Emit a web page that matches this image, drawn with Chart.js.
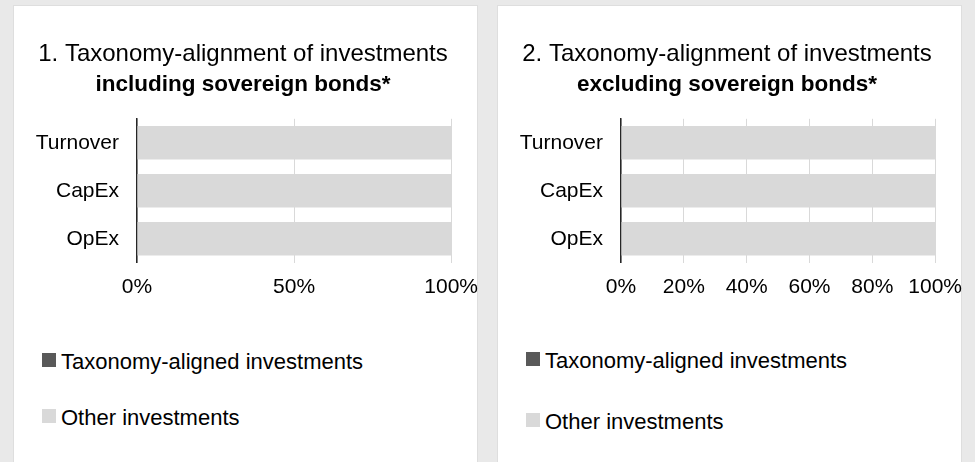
<!DOCTYPE html>
<html>
<head>
<meta charset="utf-8">
<script src="https://cdn.jsdelivr.net/npm/chart.js@4"></script>
<style>
  html, body { margin: 0; padding: 0; }
  body { width: 975px; height: 462px; background: #e9e9e9; position: relative; overflow: hidden;
         font-family: "Liberation Sans", Arial, sans-serif; }
  .panel { position: absolute; top: 6px; width: 463px; height: 460px; background: #fff;
           box-shadow: 0 0 0 1px #dedede; }
  .panel canvas { position: absolute; left: 0; top: 0; }
  .legend-item { position: absolute; left: 28px; height: 24px; }
  .legend-item .box { position: absolute; left: 0; width: 14px; height: 14px; }
  .legend-item .txt { position: absolute; left: 19px; font-size: 22px; line-height: 22px;
                      color: #000; white-space: nowrap; }
</style>
</head>
<body>
<div class="panel" id="p1" style="left:14px"><canvas id="chart1" width="476" height="315"></canvas></div>
<div class="panel" id="p2" style="left:498px"><canvas id="chart2" width="476" height="315"></canvas></div>
<script>
// data
const categories = ["Turnover", "CapEx", "OpEx"];
const seriesNames = ["Taxonomy-aligned investments", "Other investments"];
const seriesColors = ["#595959", "#d9d9d9"];

const alignedIncl = [0, 0, 0];
const otherIncl = [100, 100, 100];
const alignedExcl = [0, 0, 0];
const otherExcl = [100, 100, 100];

const ticksIncl = [0, 50, 100];
const ticksExcl = [0, 20, 40, 60, 80, 100];

const titleIncl = ["1. Taxonomy-alignment of investments", "including sovereign bonds*"];
const titleExcl = ["2. Taxonomy-alignment of investments", "excluding sovereign bonds*"];

const FONT = "'Liberation Sans', Arial, sans-serif";

function makeChart(canvasId, panelId, title, aligned, other, ticks, legendTops) {
  const step = ticks[1] - ticks[0];
  new Chart(document.getElementById(canvasId), {
    type: "bar",
    data: {
      labels: categories,
      datasets: [
        { label: seriesNames[0], data: aligned, backgroundColor: seriesColors[0], borderWidth: 0,
          categoryPercentage: 1, barPercentage: 0.7 },
        { label: seriesNames[1], data: other, backgroundColor: seriesColors[1], borderWidth: 0,
          categoryPercentage: 1, barPercentage: 0.7 }
      ]
    },
    options: {
      indexAxis: "y",
      responsive: false,
      animation: false,
      // canvas is a bit wider than the panel so the 100% label fits
      layout: { padding: { left: 20, right: 38, top: 0, bottom: 9 } },
      plugins: {
        legend: { display: false },
        tooltip: { enabled: false },
        title: {
          display: true,
          text: title[0],
          color: "#000",
          font: { family: FONT, size: 24, weight: "normal", lineHeight: 1.2 },
          padding: { top: 34, bottom: 0 }
        },
        subtitle: {
          display: true,
          text: title[1],
          color: "#000",
          font: { family: FONT, size: 22.5, weight: "bold", lineHeight: 1.2 },
          padding: { top: 2, bottom: 21 }
        }
      },
      scales: {
        x: {
          stacked: true,
          min: ticks[0],
          max: ticks[ticks.length - 1],
          ticks: {
            stepSize: step,
            padding: 12,
            color: "#000",
            font: { family: FONT, size: 21 },
            callback: v => v + "%"
          },
          grid: { color: "#d9d9d9", lineWidth: 1, drawTicks: false },
          border: { display: false }
        },
        y: {
          stacked: true,
          ticks: { padding: 18, color: "#000", font: { family: FONT, size: 21 } },
          grid: { display: false, drawTicks: false },
          border: { display: true, color: "#262626", width: 1.5 },
          afterFit: s => { s.width = 103; }
        }
      }
    }
  });

  // legend drawn as html below the canvas
  const panel = document.getElementById(panelId);
  seriesNames.forEach((name, i) => {
    const item = document.createElement("div");
    item.className = "legend-item";
    item.style.top = legendTops[i] + "px";
    const box = document.createElement("div");
    box.className = "box";
    box.style.background = seriesColors[i];
    const txt = document.createElement("div");
    txt.className = "txt";
    txt.style.top = "-2px";
    txt.textContent = name;
    item.appendChild(box);
    item.appendChild(txt);
    panel.appendChild(item);
  });
}

makeChart("chart1", "p1", titleIncl, alignedIncl, otherIncl, ticksIncl, [347, 403]);
makeChart("chart2", "p2", titleExcl, alignedExcl, otherExcl, ticksExcl, [346, 407]);
</script>
</body>
</html>
